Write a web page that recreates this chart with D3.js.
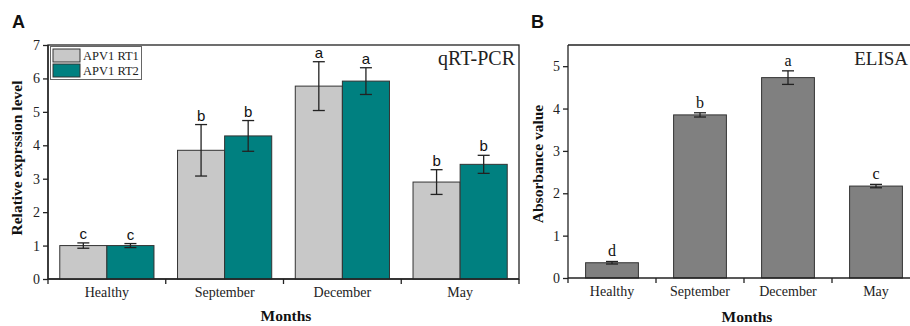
<!DOCTYPE html>
<html><head><meta charset="utf-8">
<script src="https://cdn.jsdelivr.net/npm/d3@7"></script>
<style>body{margin:0;background:#fff}svg{display:block}</style>
</head><body>
<svg id="c" width="910" height="326"></svg>
<script>
const months = ["Healthy","September","December","May"];
const seriesNames = ["APV1 RT1","APV1 RT2"];
const rt1 = [1.0, 3.85, 5.77, 2.90];
const rt1Err = [0.08, 0.77, 0.73, 0.37];
const rt1Letters = ["c","b","a","b"];
const rt2 = [1.0, 4.28, 5.92, 3.43];
const rt2Err = [0.06, 0.46, 0.40, 0.27];
const rt2Letters = ["c","b","a","b"];
const elisa = [0.36, 3.85, 4.73, 2.17];
const elisaErr = [0.03, 0.05, 0.16, 0.04];
const elisaLetters = ["d","b","a","c"];
const yTicksA = [0,1,2,3,4,5,6,7];
const yTicksB = [0,1,2,3,4,5];

const svg = d3.select("#c");
const SERIF = "Liberation Serif, Times New Roman, serif";
const SANS = "Liberation Sans, Arial, sans-serif";
const colors = ["#c8c8c8","#008080"];

// ---------- Panel A ----------
const A = {l:48, r:519, t:45, b:279};
const xA = d3.scaleBand().domain(months).range([A.l, A.r]).paddingInner(0).paddingOuter(0);
const xSubA = d3.scaleBand().domain(seriesNames).range([0, xA.bandwidth()]).paddingOuter(0.25).paddingInner(0);
const yA = d3.scaleLinear().domain([0,7]).range([A.b, A.t]);
const gA = svg.append("g");

gA.append("rect").attr("x",A.l).attr("y",A.t).attr("width",A.r-A.l).attr("height",A.b-A.t)
  .attr("fill","none").attr("stroke","#222").attr("stroke-width",1.3);

const dataA = [];
months.forEach((m,i)=>{
  dataA.push({m, s:seriesNames[0], v:rt1[i], e:rt1Err[i], L:rt1Letters[i], c:colors[0]});
  dataA.push({m, s:seriesNames[1], v:rt2[i], e:rt2Err[i], L:rt2Letters[i], c:colors[1]});
});
gA.selectAll("rect.bar").data(dataA).join("rect").attr("class","bar")
  .attr("x",d=>xA(d.m)+xSubA(d.s)).attr("width",xSubA.bandwidth())
  .attr("y",d=>yA(d.v)).attr("height",d=>yA(0)-yA(d.v))
  .attr("fill",d=>d.c).attr("stroke","#333").attr("stroke-width",1);
const ebA = gA.selectAll("g.eb").data(dataA).join("g").attr("class","eb")
  .attr("transform",d=>`translate(${xA(d.m)+xSubA(d.s)+xSubA.bandwidth()/2},0)`);
ebA.append("line").attr("y1",d=>yA(d.v+d.e)).attr("y2",d=>yA(d.v-d.e)).attr("stroke","#222").attr("stroke-width",1.3);
ebA.append("line").attr("x1",-6).attr("x2",6).attr("y1",d=>yA(d.v+d.e)).attr("y2",d=>yA(d.v+d.e)).attr("stroke","#222").attr("stroke-width",1.3);
ebA.append("line").attr("x1",-6).attr("x2",6).attr("y1",d=>yA(d.v-d.e)).attr("y2",d=>yA(d.v-d.e)).attr("stroke","#222").attr("stroke-width",1.3);
ebA.append("text").attr("y",d=>yA(d.v+d.e)-4).attr("text-anchor","middle")
  .attr("font-family",SANS).attr("font-size",15).attr("fill","#111").text(d=>d.L);

// axes A
const yAxA = gA.append("g").attr("transform",`translate(${A.l},0)`)
  .call(d3.axisLeft(yA).tickValues(yTicksA).tickSize(5).tickPadding(3).tickFormat(d3.format("d")));
const xAxA = gA.append("g").attr("transform",`translate(0,${A.b})`)
  .call(d3.axisBottom(xA).tickSize(0).tickPadding(8));
xAxA.selectAll(".tick line").remove();
xAxA.selectAll("line.bd").data(d3.range(5)).join("line").attr("class","bd")
  .attr("x1",i=>A.l+i*xA.step()).attr("x2",i=>A.l+i*xA.step()).attr("y1",0).attr("y2",5)
  .attr("stroke","#222").attr("stroke-width",1.3);
[yAxA,xAxA].forEach(ax=>{
  ax.select(".domain").attr("stroke","#222").attr("stroke-width",1.3);
  ax.selectAll(".tick line").attr("stroke","#222").attr("stroke-width",1.3);
  ax.selectAll("text").attr("font-family",SERIF).attr("font-size",14).attr("fill","#222");
});
yAxA.select(".domain").attr("d",`M0,${A.b}V${A.t}`);
xAxA.select(".domain").attr("d",`M${A.l},0H${A.r}`);

// legend
const lg = gA.append("g");
lg.append("rect").attr("x",50.5).attr("y",46.5).attr("width",91).attr("height",33)
  .attr("fill","#fff").attr("stroke","#666").attr("stroke-width",1);
seriesNames.forEach((s,i)=>{
  lg.append("rect").attr("x",53).attr("y",49+i*15).attr("width",27).attr("height",13)
    .attr("fill",colors[i]).attr("stroke","#333").attr("stroke-width",1);
  lg.append("text").attr("x",83).attr("y",60+i*15).attr("font-family",SERIF).attr("font-size",12.5)
    .attr("fill","#222").text(s);
});
gA.append("text").attr("x",515).attr("y",65).attr("text-anchor","end").attr("font-family",SERIF)
  .attr("font-size",20).attr("fill","#222").text("qRT-PCR");
gA.append("text").attr("x",12).attr("y",28).attr("font-family",SANS).attr("font-weight","bold")
  .attr("font-size",18).attr("fill","#111").text("A");
gA.append("text").attr("transform",`translate(22,158) rotate(-90)`).attr("text-anchor","middle")
  .attr("font-family",SERIF).attr("font-weight","bold").attr("font-size",15.5).attr("fill","#111")
  .text("Relative exprssion level");
gA.append("text").attr("x",286).attr("y",321).attr("text-anchor","middle")
  .attr("font-family",SERIF).attr("font-weight","bold").attr("font-size",15.5).attr("fill","#111").text("Months");

// ---------- Panel B ----------
const B = {l:568, r:920, t:45, b:278};
const xB = d3.scaleBand().domain(months).range([B.l, B.r]).paddingInner(0.4).paddingOuter(0.2);
const xBb = d3.scaleBand().domain(months).range([B.l, B.r]);
const yB = d3.scaleLinear().domain([0,5.5]).range([B.b, B.t]);
const gB = svg.append("g");
gB.append("line").attr("x1",B.l).attr("x2",B.r).attr("y1",B.t).attr("y2",B.t).attr("stroke","#222").attr("stroke-width",1.3);
const dataB = months.map((m,i)=>({m, v:elisa[i], e:elisaErr[i], L:elisaLetters[i]}));
gB.selectAll("rect.bar").data(dataB).join("rect").attr("class","bar")
  .attr("x",d=>xB(d.m)).attr("width",xB.bandwidth())
  .attr("y",d=>yB(d.v)).attr("height",d=>yB(0)-yB(d.v))
  .attr("fill","#808080").attr("stroke","#333").attr("stroke-width",1);
const ebB = gB.selectAll("g.eb").data(dataB).join("g").attr("class","eb")
  .attr("transform",d=>`translate(${xB(d.m)+xB.bandwidth()/2},0)`);
ebB.append("line").attr("y1",d=>yB(d.v+d.e)).attr("y2",d=>yB(d.v-d.e)).attr("stroke","#222").attr("stroke-width",1.3);
ebB.append("line").attr("x1",-6).attr("x2",6).attr("y1",d=>yB(d.v+d.e)).attr("y2",d=>yB(d.v+d.e)).attr("stroke","#222").attr("stroke-width",1.3);
ebB.append("line").attr("x1",-6).attr("x2",6).attr("y1",d=>yB(d.v-d.e)).attr("y2",d=>yB(d.v-d.e)).attr("stroke","#222").attr("stroke-width",1.3);
ebB.append("text").attr("y",d=>yB(d.v+d.e)-5).attr("text-anchor","middle")
  .attr("font-family",SERIF).attr("font-size",16).attr("fill","#111").text(d=>d.L);

const yAxB = gB.append("g").attr("transform",`translate(${B.l},0)`)
  .call(d3.axisLeft(yB).tickValues(yTicksB).tickSize(5).tickPadding(3).tickFormat(d3.format("d")));
const xAxB = gB.append("g").attr("transform",`translate(0,${B.b})`)
  .call(d3.axisBottom(xBb).tickSize(0).tickPadding(8));
xAxB.selectAll(".tick line").remove();
xAxB.selectAll("line.bd").data(d3.range(5)).join("line").attr("class","bd")
  .attr("x1",i=>B.l+i*xBb.step()).attr("x2",i=>B.l+i*xBb.step()).attr("y1",0).attr("y2",5)
  .attr("stroke","#222").attr("stroke-width",1.3);
[yAxB,xAxB].forEach(ax=>{
  ax.select(".domain").attr("stroke","#222").attr("stroke-width",1.3);
  ax.selectAll(".tick line").attr("stroke","#222").attr("stroke-width",1.3);
  ax.selectAll("text").attr("font-family",SERIF).attr("font-size",14).attr("fill","#222");
});
yAxB.select(".domain").attr("d",`M0,${B.b}V${B.t}`);
xAxB.select(".domain").attr("d",`M${B.l},0H${B.r}`);

gB.append("text").attr("x",908).attr("y",65).attr("text-anchor","end").attr("font-family",SERIF)
  .attr("font-size",19).attr("fill","#222").text("ELISA");
gB.append("text").attr("x",531).attr("y",28).attr("font-family",SANS).attr("font-weight","bold")
  .attr("font-size",18).attr("fill","#111").text("B");
gB.append("text").attr("transform",`translate(543,164) rotate(-90)`).attr("text-anchor","middle")
  .attr("font-family",SERIF).attr("font-weight","bold").attr("font-size",15.5).attr("fill","#111")
  .text("Absorbance value");
gB.append("text").attr("x",747).attr("y",322).attr("text-anchor","middle")
  .attr("font-family",SERIF).attr("font-weight","bold").attr("font-size",15.5).attr("fill","#111").text("Months");
</script>
</body></html>
